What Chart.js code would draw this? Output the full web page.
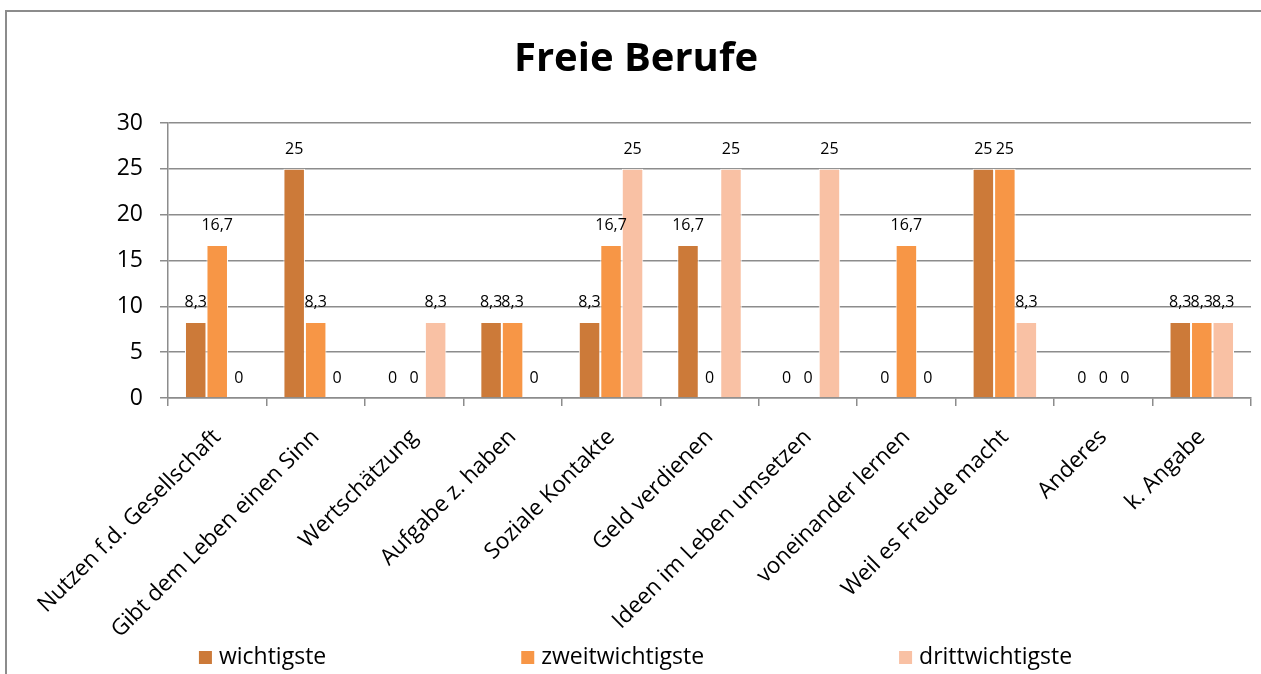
<!DOCTYPE html>
<html>
<head>
<meta charset="utf-8">
<script src="https://cdn.jsdelivr.net/npm/chart.js@4.4.0/dist/chart.umd.min.js"></script>
<style>
    html, body { margin: 0; padding: 0; background: #fff; overflow: hidden; }
    .ChartWrapper { position: relative; width: 1261px; height: 674px; }
    .ChartFrame { position: absolute; left: 5px; top: 10px; width: 1300px; height: 700px; border: 2px solid #8c8c8c; }
    #FreieBerufePlot { position: absolute; left: 0; top: 0; }
</style>
</head>
<body>
<div class="ChartWrapper">
    <div class="ChartFrame"></div>
    <canvas id="FreieBerufePlot" width="1261" height="674"></canvas>
</div>
<script>
const categories = [
    'Nutzen f.d. Gesellschaft',
    'Gibt dem Leben einen Sinn',
    'Wertschätzung',
    'Aufgabe z. haben',
    'Soziale Kontakte',
    'Geld verdienen',
    'Ideen im Leben umsetzen',
    'voneinander lernen',
    'Weil es Freude macht',
    'Anderes',
    'k. Angabe'
]
const wichtigste      = [8.3, 25, 0, 8.3, 8.3, 16.7, 0, 0, 25, 0, 8.3]
const zweitwichtigste = [16.7, 8.3, 0, 8.3, 16.7, 0, 0, 16.7, 25, 0, 8.3]
const drittwichtigste = [0, 0, 8.3, 0, 25, 25, 25, 0, 8.3, 0, 8.3]
const yTicks = [0, 5, 10, 15, 20, 25, 30]

const FONT = '"Open Sans"'
const gridColor = '#8c8c8c'

// numbers above the bars, german decimal comma
const valueLabels = {
    id: 'valueLabels',
    afterDatasetsDraw(chart) {
        const ctx = chart.ctx
        ctx.save()
        ctx.font = `16px ${FONT}`
        ctx.fillStyle = '#000'
        ctx.textAlign = 'center'
        ctx.textBaseline = 'alphabetic'
        chart.data.datasets.forEach((ds, i) => {
            chart.getDatasetMeta(i).data.forEach((bar, j) => {
                ctx.fillText(String(ds.data[j]).replace('.', ','), bar.x, bar.y - 15)
            })
        })
        ctx.restore()
    }
}

// excel style legend, wide equal gaps between the entries
const bottomLegend = {
    id: 'bottomLegend',
    afterDraw(chart) {
        const ctx = chart.ctx
        ctx.save()
        ctx.font = `23px ${FONT}`
        const box = 13, gap = 7, spacing = 195
        const items = chart.data.datasets.map(ds => ({
            label: ds.label,
            color: ds.backgroundColor,
            w: box + gap + ctx.measureText(ds.label).width
        }))
        const total = items.reduce((s, it) => s + it.w, 0) + spacing * (items.length - 1)
        let x = (chart.width - total) / 2 + 5
        const y = 664
        items.forEach(it => {
            ctx.fillStyle = it.color
            ctx.fillRect(x, y - 13, box, box)
            ctx.fillStyle = '#000'
            ctx.textBaseline = 'alphabetic'
            ctx.fillText(it.label, x + box + gap, y)
            x += it.w + spacing
        })
        ctx.restore()
    }
}

const ctx = document.getElementById('FreieBerufePlot').getContext('2d')
new Chart(ctx, {
    type: 'bar',
    data: {
        labels: categories,
        datasets: [{
            label: 'wichtigste',
            data: wichtigste,
            backgroundColor: '#cc7a39',
        }, {
            label: 'zweitwichtigste',
            data: zweitwichtigste,
            backgroundColor: '#f79646',
        }, {
            label: 'drittwichtigste',
            data: drittwichtigste,
            backgroundColor: '#f9c1a4',
        }]
    },
    options: {
        responsive: false,
        animation: false,
        devicePixelRatio: 1,
        layout: { padding: { left: 21, right: 10, top: 0, bottom: 0 } },
        datasets: {
            bar: {
                categoryPercentage: 0.655,
                barPercentage: 1,
                borderColor: '#fff',
                borderWidth: 1,
            }
        },
        plugins: {
            legend: { display: false },
            tooltip: { enabled: false },
            title: {
                display: true,
                text: 'Freie Berufe',
                color: '#000',
                font: { family: FONT, size: 40, weight: 'bold' },
                padding: { top: 36, bottom: 39 }
            }
        },
        scales: {
            x: {
                ticks: {
                    color: '#000',
                    font: { family: FONT, size: 22.5 },
                    minRotation: 45,
                    maxRotation: 45,
                    autoSkip: false,
                    padding: 18
                },
                grid: { display: true, drawOnChartArea: false, offset: true, color: gridColor, lineWidth: 1.5, tickLength: 8 },
                border: { display: true, color: gridColor, width: 1.5 },
                afterFit: scale => { scale.height = 276 }
            },
            y: {
                min: 0,
                max: 30,
                afterBuildTicks: scale => { scale.ticks = yTicks.map(v => ({ value: v })) },
                ticks: {
                    color: '#000',
                    font: { family: FONT, size: 23 },
                    padding: 17
                },
                grid: { color: gridColor, lineWidth: 1.5, tickLength: 8 },
                border: { display: true, color: gridColor, width: 1.5 },
                afterFit: scale => { scale.width = 147 }
            }
        }
    },
    plugins: [valueLabels, bottomLegend]
})
</script>
</body>
</html>
